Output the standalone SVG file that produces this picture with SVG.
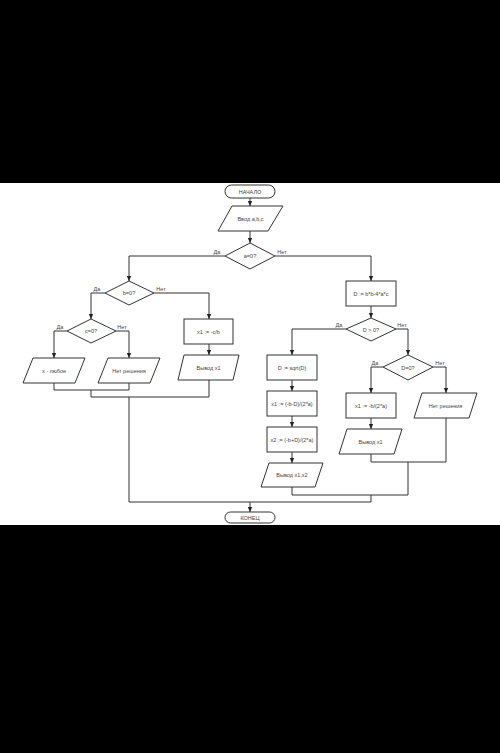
<svg xmlns="http://www.w3.org/2000/svg" width="500" height="753" viewBox="0 0 500 753">
<defs>
<marker id="ah" markerWidth="6" markerHeight="6" refX="5" refY="3" orient="auto" markerUnits="userSpaceOnUse">
<path d="M0,0.8 L5,3 L0,5.2 Z" fill="#222"/>
</marker>
<style>
.s{fill:#fff;stroke:#333;stroke-width:1}
.c{fill:none;stroke:#333;stroke-width:1}
.a{marker-end:url(#ah)}
text{font-family:"Liberation Sans",Arial,sans-serif;font-size:5.5px;fill:#444;text-anchor:middle;dominant-baseline:central}
.l{font-size:5.5px;dominant-baseline:auto}
</style>
</defs>
<rect x="0" y="0" width="500" height="753" fill="#000"/>
<rect x="0" y="183" width="500" height="342" fill="#fff"/>
<g id="connectors">
<path class="c a" d="M250,198 V206"/>
<path class="c a" d="M250,231 V243"/>
<path class="c a" d="M225,256 H129 V281"/>
<path class="c a" d="M275,256 H371 V281"/>
<path class="c a" d="M105,293 H91 V319"/>
<path class="c a" d="M154,293 H209 V319"/>
<path class="c a" d="M67,331 H54 V358"/>
<path class="c a" d="M116,331 H129 V358"/>
<path class="c a" d="M209,344 V355"/>
<path class="c" d="M54,383 V390 H129 V383"/>
<path class="c" d="M91,390 V397 H209 V380"/>
<path class="c" d="M129,397 V502 H371"/>
<path class="c a" d="M250,502 V512"/>
<path class="c a" d="M371,306 V318"/>
<path class="c a" d="M346,329 H292 V355"/>
<path class="c a" d="M396,329 H408 V355"/>
<path class="c a" d="M292,380 V391"/>
<path class="c a" d="M292,416 V427"/>
<path class="c a" d="M292,452 V463"/>
<path class="c a" d="M383,367 H371 V393"/>
<path class="c a" d="M433,367 H446 V393"/>
<path class="c a" d="M371,418 V429"/>
<path class="c" d="M371,454 V462 H446 V418"/>
<path class="c" d="M408,462 V495 H292 V487"/>
<path class="c" d="M371,495 V502"/>
</g>
<g id="start"><rect class="s" x="225" y="185" width="50" height="13" rx="6.5"/><text x="250" y="191.5">НАЧАЛО</text></g>
<g id="input"><polygon class="s" points="232,206 283,206 268,231 218,231"/><text x="250.5" y="218.5">Ввод a,b,c</text></g>
<g id="dA"><polygon class="s" points="250,243 275,256 250,269 225,256"/><text x="250" y="256">a=0?</text>
<text class="l" x="217" y="254">Да</text><text class="l" x="282" y="254">Нет</text></g>
<g id="dB"><polygon class="s" points="129,281 154,293 129,305 105,293"/><text x="129" y="293">b=0?</text>
<text class="l" x="97" y="291">Да</text><text class="l" x="161" y="291">Нет</text></g>
<g id="dC"><polygon class="s" points="91,319 116,331 91,343 67,331"/><text x="91" y="331">c=0?</text>
<text class="l" x="60" y="329">Да</text><text class="l" x="122" y="329">Нет</text></g>
<g id="anyX"><polygon class="s" points="33,358 85,358 75,383 23,383"/><text x="54" y="370.5">x - любое</text></g>
<g id="noSol1"><polygon class="s" points="108,358 160,358 150,383 98,383"/><text x="129" y="370.5">Нет решения</text></g>
<g id="x1cb"><rect class="s" x="184" y="319" width="49" height="25"/><text x="208.5" y="331.5">x1 := -c/b</text></g>
<g id="out1"><polygon class="s" points="184,355 239,355 233,380 178,380"/><text x="208.5" y="367.5">Вывод x1</text></g>
<g id="disc"><rect class="s" x="346" y="281" width="50" height="25"/><text x="371" y="293.5">D := b*b-4*a*c</text></g>
<g id="dD"><polygon class="s" points="371,318 396,329 371,341 346,329"/><text x="371" y="329.5">D &gt; 0?</text>
<text class="l" x="339" y="327">Да</text><text class="l" x="402" y="327">Нет</text></g>
<g id="sqrt"><rect class="s" x="267" y="355" width="50" height="25"/><text x="292" y="367.5">D := sqrt(D)</text></g>
<g id="x1"><rect class="s" x="267" y="391" width="50" height="25"/><text x="292" y="403.5">x1 := (-b-D)/(2*a)</text></g>
<g id="x2"><rect class="s" x="267" y="427" width="50" height="25"/><text x="292" y="439.5">x2 := (-b+D)/(2*a)</text></g>
<g id="out12"><polygon class="s" points="269,463 323,463 315,487 261,487"/><text x="292" y="475">Вывод x1,x2</text></g>
<g id="dE"><polygon class="s" points="408,355 433,367 408,380 383,367"/><text x="408" y="367.5">D=0?</text>
<text class="l" x="375" y="365">Да</text><text class="l" x="440" y="365">Нет</text></g>
<g id="x1b"><rect class="s" x="346" y="393" width="50" height="25"/><text x="371" y="405.5">x1 := -b/(2*a)</text></g>
<g id="out1b"><polygon class="s" points="347,429 402,429 394,454 339,454"/><text x="370.5" y="441.5">Вывод x1</text></g>
<g id="noSol2"><polygon class="s" points="422,393 477,393 469,418 414,418"/><text x="445.5" y="405.5">Нет решения</text></g>
<g id="end"><rect class="s" x="225" y="512" width="50" height="11" rx="5.5"/><text x="250" y="517.5">КОНЕЦ</text></g>
</svg>
